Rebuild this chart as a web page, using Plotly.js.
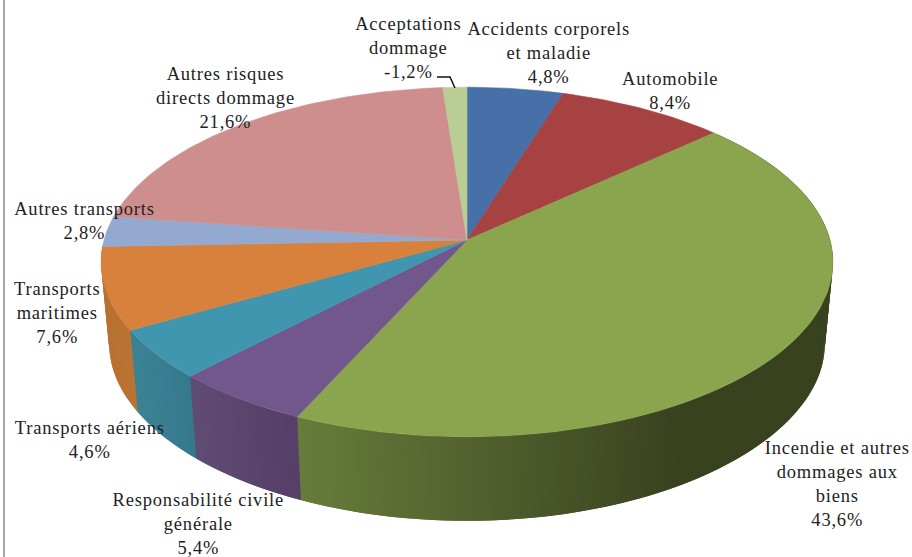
<!DOCTYPE html>
<html><head><meta charset="utf-8">
<script src="https://cdn.plot.ly/plotly-3.0.1.min.js"></script>
<style>html,body{margin:0;padding:0;background:#fff}#c{width:912px;height:557px}
#c .annotation text{letter-spacing:0.8px}</style>
</head><body><div id="c"></div>
<script>
const categories = ["Accidents corporels<br>et maladie","Automobile","Incendie et autres<br>dommages aux<br>biens","Responsabilité civile<br>générale","Transports aériens","Transports<br>maritimes","Autres transports","Autres risques<br>directs dommage","Acceptations<br>dommage"];
const values = [4.8,8.4,43.6,5.4,4.6,7.6,2.8,21.6,-1.2];
const topColors = ["#4670A7","#A64342","#8AA54E","#72578C","#4096AE","#D8813C","#93A9CF","#CF8E8E","#B9CD95"];
const sideStops = {2:[298,"#677C3A",680,"#39421F"],3:[195,"#5F4B74",300,"#553E67"],4:[135,"#3B8295",195,"#35788C"],5:[105,"#B87131",135,"#BC7433"]};
const labelPos = [[548,53],[670,90.5],[837,484],[198,524],[89,440],[57,312.5],[84,220.5],[225,98],[408,48]];

const CX=467;
const topFace={R:363,H:172,Y:240,P:0.1257,Px:0.1257}, botFace={R:355,H:169,Y:322,P:0.15,Px:0.1257};
function proj(f,t){const a=2*Math.PI*t,c=Math.cos(a);return [CX+f.R*Math.sin(a)/(1+f.Px*c),f.Y-f.H*c/(1+f.P*c)];}
function hex(c){return [1,3,5].map(i=>parseInt(c.substr(i,2),16));}
function mix(s,x){let k=Math.max(0,Math.min(1,(x-s[0])/(s[2]-s[0])));const a=hex(s[1]),b=hex(s[3]);
  return 'rgb('+a.map((v,i)=>Math.round(v+(b[i]-v)*k)).join(',')+')';}
const total=values.reduce((s,v)=>s+Math.abs(v),0);
const traces=[];
let cum=[0];values.forEach(v=>cum.push(cum[cum.length-1]+Math.abs(v)/total));
function poly(pts,col,w){traces.push({type:'scatter',mode:'lines',x:pts.map(p=>p[0]),y:pts.map(p=>p[1]),fill:'toself',fillcolor:col,line:{color:col,width:w},hoverinfo:'skip',showlegend:false});}
// side walls: each strip overlaps the next one, so no seams show
Object.keys(sideStops).forEach(k=>{k=+k;const a=cum[k],b=cum[k+1],n=Math.ceil((b-a)*360);
  for(let i=0;i<n;i++){const t0=a+(b-a)*i/n,t1=a+(b-a)*(i+1)/n,t2=a+(b-a)*(i+2)/n;
    const p=[proj(topFace,t0),proj(topFace,t1),proj(topFace,t2),proj(botFace,t2),proj(botFace,t1),proj(botFace,t0)];
    poly(p.concat([p[0]]),mix(sideStops[k],(p[0][0]+p[1][0])/2),0);}
});
// top faces
values.forEach((v,k)=>{const a=cum[k],b=cum[k+1],n=Math.max(4,Math.ceil((b-a)*360));
  const pts=[[CX,topFace.Y]];for(let i=0;i<=n;i++)pts.push(proj(topFace,a+(b-a)*i/n));pts.push([CX,topFace.Y]);
  poly(pts,topColors[k],0.6);});
// leader line for the last label
traces.push({type:'scatter',mode:'lines',x:[437,450,455],y:[77,77,88],line:{color:'#111',width:1.5},hoverinfo:'skip',showlegend:false});

const annotations=values.map((v,k)=>({x:labelPos[k][0],y:labelPos[k][1],xref:'x',yref:'y',xanchor:'center',yanchor:'middle',showarrow:false,align:'center',
  text:categories[k]+'<br>'+v.toFixed(1).replace('.',',')+'%',font:{family:'Liberation Serif, serif',size:18.5,color:'#222'}}));
const layout={width:912,height:557,margin:{l:0,r:0,t:0,b:0},paper_bgcolor:'#fff',plot_bgcolor:'#fff',showlegend:false,
  xaxis:{range:[0,912],visible:false,fixedrange:true},yaxis:{range:[557,0],visible:false,fixedrange:true},annotations,
  shapes:[{type:'line',xref:'x',yref:'y',x0:4,x1:4,y0:0,y1:557,line:{color:'#A6A6A6',width:2}}]};
Plotly.newPlot('c',traces,layout,{displayModeBar:false,staticPlot:true});
</script></body></html>
